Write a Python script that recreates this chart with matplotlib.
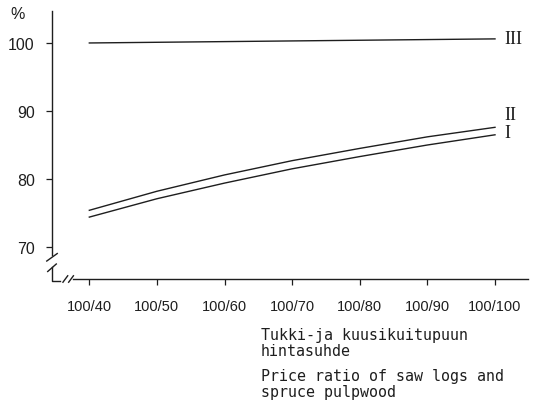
import matplotlib
matplotlib.use('Agg')
import matplotlib.pyplot as plt

# price ratio (saw logs / spruce pulpwood), second number
ratio = [40, 50, 60, 70, 80, 90, 100]
tick_labels = ['100/40', '100/50', '100/60', '100/70', '100/80', '100/90', '100/100']

# curves, %
curve_I = [74.4, 77.1, 79.4, 81.5, 83.3, 85.0, 86.5]
curve_II = [75.4, 78.2, 80.6, 82.7, 84.5, 86.2, 87.6]
curve_III = [100.0, 100.1, 100.2, 100.3, 100.4, 100.5, 100.6]

yticks = [70, 80, 90, 100]

ink = '#1e1e1e'

fig = plt.figure(figsize=(5.35, 4.02), dpi=100)
ax = fig.add_axes([52 / 535, 122 / 402, 476 / 535, 268 / 402])

for vals in (curve_I, curve_II, curve_III):
    ax.plot(ratio, vals, color=ink, lw=1.0)

ax.set_xlim(34.48, 104.88)
ax.set_ylim(65.3, 104.7)

for s in ax.spines.values():
    s.set_visible(False)

ax.set_xticks(ratio)
ax.set_xticklabels(tick_labels, family='Liberation Sans', fontsize=10.5, color=ink)
ax.set_yticks(yticks)
ax.set_yticklabels([str(v) for v in yticks], family='Liberation Sans', fontsize=11.5, color=ink)
ax.tick_params(axis='x', direction='out', length=4.5, width=0.9, color=ink, pad=10)
ax.tick_params(axis='y', direction='out', length=4.5, width=0.9, color=ink, pad=8)

# axis lines with break marks
kw = dict(transform=ax.transAxes, color=ink, lw=1.0, clip_on=False)
ax.plot([0, 0], [1, 0.09], **kw)
ax.plot([-0.011, 0.011], [0.067, 0.095], **kw)
ax.plot([-0.009, 0.009], [0.028, 0.056], **kw)
ax.plot([0, 0, 0.017], [0.045, -0.006, -0.006], **kw)
ax.plot([0.023, 0.033], [-0.012, 0.012], **kw)
ax.plot([0.035, 0.045], [-0.012, 0.012], **kw)
ax.plot([0.045, 1.0], [0, 0], **kw)

# curve labels
ax.annotate('III', xy=(ratio[-1], curve_III[-1]), xytext=(7, 0), textcoords='offset points',
            va='center', ha='left', family='Liberation Serif', fontsize=13, color=ink)
ax.annotate('II', xy=(ratio[-1], curve_II[-1]), xytext=(7, 9), textcoords='offset points',
            va='center', ha='left', family='Liberation Serif', fontsize=13, color=ink)
ax.annotate('I', xy=(ratio[-1], curve_I[-1]), xytext=(7, 2), textcoords='offset points',
            va='center', ha='left', family='Liberation Serif', fontsize=13, color=ink)

fig.text(10 / 535, 1 - 19 / 402, '%', family='Liberation Sans', fontsize=11.5, color=ink)

mono = dict(family='DejaVu Sans Mono', fontsize=10.8, color=ink, va='baseline', ha='left')
fig.text(261 / 535, 1 - 340 / 402, 'Tukki-ja kuusikuitupuun', **mono)
fig.text(261 / 535, 1 - 356 / 402, 'hintasuhde', **mono)
fig.text(261 / 535, 1 - 381 / 402, 'Price ratio of saw logs and', **mono)
fig.text(261 / 535, 1 - 397 / 402, 'spruce pulpwood', **mono)

fig.savefig('out.png', dpi=100)
